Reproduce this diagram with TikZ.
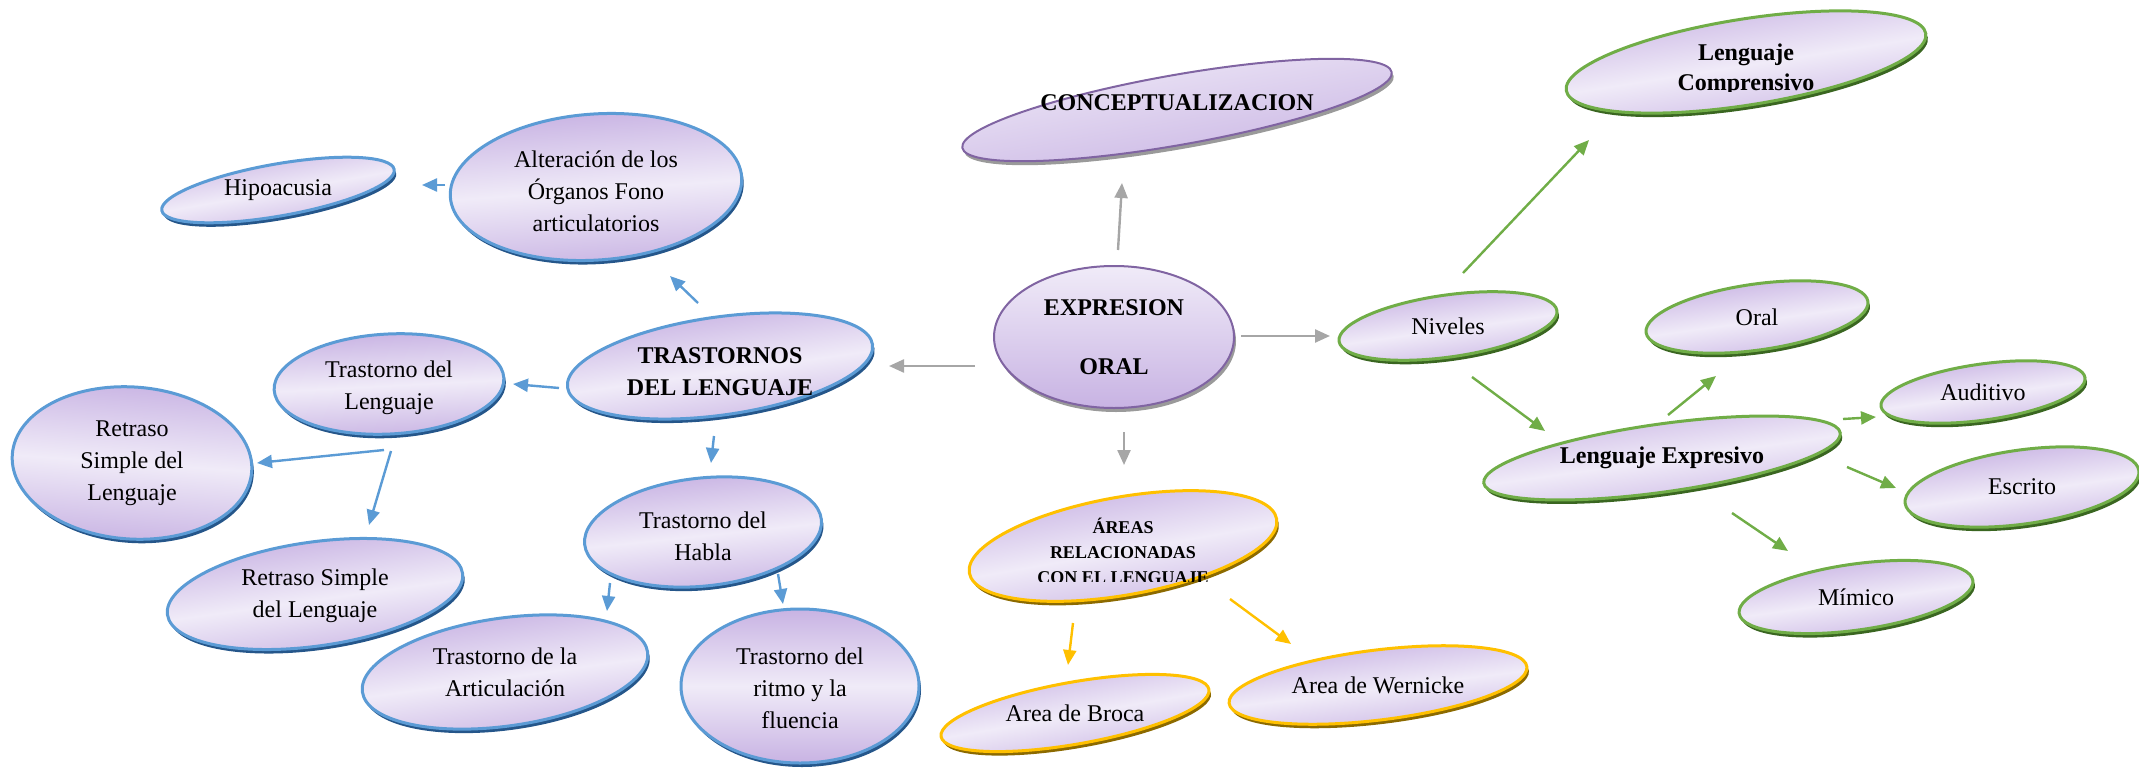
\documentclass[tikz,border=0pt]{standalone}
\usepackage{fontspec}
\setmainfont{Liberation Serif}
\usetikzlibrary{calc,backgrounds,arrows.meta}
\definecolor{lilacdeep}{HTML}{C8B3E3}
\definecolor{lilacpale}{HTML}{F0EBF8}
\definecolor{rimblue}{HTML}{5B9BD5}
\definecolor{darkblue}{HTML}{25568A}
\definecolor{rimgreen}{HTML}{70AD47}
\definecolor{darkgreen}{HTML}{3A6621}
\definecolor{rimgold}{HTML}{FFC000}
\definecolor{darkgold}{HTML}{8C6A00}
\definecolor{rimpurple}{HTML}{8064A2}
\definecolor{shadowgrey}{HTML}{9A9A9A}
\definecolor{linkgrey}{HTML}{A6A6A6}
\newcommand{\linkwidth}{2.4pt}
% centre, x radius, y radius, tilt, rim, shadow, filling
\newcommand{\bubble}[7]{%
\fill[#6] ($(#1)+(2,4)$) ellipse [x radius=#2, y radius=#3, rotate=#4];
\shade[#7, shading angle=#4] (#1) ellipse [x radius=#2, y radius=#3, rotate=#4];
\draw[#5] (#1) ellipse [x radius=#2, y radius=#3, rotate=#4];
}

\begin{document}
\begin{tikzpicture}[x=1pt, y=-1pt,
  word/.style={font=\fontsize{24}{32}\selectfont, align=center, inner sep=0},
  strong/.style={word, font=\fontsize{24}{32}\selectfont\bfseries},
  heading/.style={word, font=\fontsize{18}{25}\selectfont\bfseries},
  blueedge/.style={draw=rimblue, line width=3},
  greenedge/.style={draw=rimgreen, line width=3},
  goldedge/.style={draw=rimgold, line width=3},
  purpleedge/.style={draw=rimpurple, line width=2},
  band/.style={top color=lilacdeep, bottom color=lilacdeep, middle color=lilacpale},
  fade/.style={top color=lilacpale, bottom color=lilacdeep},
  link/.style={line width=\linkwidth, -{Triangle[length=15pt,width=13pt]}}]
\useasboundingbox (0,0) rectangle (2139,768);
%centre
\node[strong] (ex) at (1114,337) {EXPRESION\\[27pt]ORAL};
\node[strong] (conc) at (1177,103) {CONCEPTUALIZACION};
%trastornos
\node[strong] (tras) at (720,372) {TRASTORNOS\\DEL LENGUAJE};
\node[word] (alt) at (596,191) {Alteración de los\\Órganos Fono\\articulatorios};
\node[word] (hipo) at (278,190) {Hipoacusia};
\node[word] (tl) at (389,388) {Trastorno del\\Lenguaje};
\node[word] (retl) at (132,463) {Retraso\\Simple del\\Lenguaje};
\node[word] (retb) at (315,596) {Retraso Simple\\del Lenguaje};
\node[word] (habla) at (703,536) {Trastorno del\\Habla};
\node[word] (art) at (505,672) {Trastorno de la\\Articulación};
\node[word] (ritmo) at (800,688) {Trastorno del\\ritmo y la\\fluencia};
%areas
\begin{scope}
\clip (950,480) rectangle (1300,581);
\node[heading] (areas) at (1123,551) {ÁREAS\\RELACIONADAS\\CON EL LENGUAJE};
\end{scope}
\node[word] (broca) at (1075,713) {Area de Broca};
\node[word] (wern) at (1378,685) {Area de Wernicke};
%niveles
\node[word] (niv) at (1448,326) {Niveles};
\begin{scope}
\clip (1550,0) rectangle (1950,91);
\node[strong, font=\fontsize{24}{30}\selectfont\bfseries] (comp) at (1746,70) {Lenguaje\\Comprensivo};
\end{scope}
\node[strong] (expr) at (1662,458) {Lenguaje Expresivo};
\node[word] (oral) at (1757,317) {Oral};
\node[word] (aud) at (1983,392) {Auditivo};
\node[word] (escr) at (2022,487) {Escrito};
\node[word] (mim) at (1856,597) {Mímico};

\begin{scope}[on background layer]
\bubble{ex}{120}{71}{0}{purpleedge}{shadowgrey}{fade}
\bubble{[yshift=-7]conc}{218}{35}{10}{purpleedge}{shadowgrey}{fade}
\bubble{[yshift=6]tras}{154}{49}{8}{blueedge}{darkblue}{band}
\bubble{[yshift=4]alt}{146}{73}{4}{blueedge}{darkblue}{band}
\bubble{hipo}{118}{26}{10}{blueedge}{darkblue}{band}
\bubble{[yshift=4]tl}{115}{50}{3}{blueedge}{darkblue}{band}
\bubble{retl}{120}{76}{-4}{blueedge}{darkblue}{band}
\bubble{[yshift=2]retb}{149}{52}{8}{blueedge}{darkblue}{band}
\bubble{[yshift=4]habla}{119}{54}{6}{blueedge}{darkblue}{band}
\bubble{art}{144}{54}{8}{blueedge}{darkblue}{band}
\bubble{[yshift=2]ritmo}{119}{77}{0}{blueedge}{darkblue}{band}
\bubble{[yshift=5]areas}{156}{49}{10}{goldedge}{darkgold}{band}
\bubble{broca}{136}{31}{10}{goldedge}{darkgold}{band}
\bubble{wern}{150}{35}{7}{goldedge}{darkgold}{band}
\bubble{niv}{110}{31}{8}{greenedge}{darkgreen}{band}
\bubble{[yshift=8]comp}{182}{43}{9}{greenedge}{darkgreen}{band}
\bubble{expr}{180}{34}{8}{greenedge}{darkgreen}{band}
\bubble{oral}{112}{33}{8}{greenedge}{darkgreen}{band}
\bubble{aud}{103}{28}{8}{greenedge}{darkgreen}{band}
\bubble{escr}{118}{37}{8}{greenedge}{darkgreen}{band}
\bubble{mim}{118}{33}{8}{greenedge}{darkgreen}{band}
\end{scope}

%links
\draw[link, linkgrey] ($(ex)+(4,-87)$) -- ($(conc)+(-55,80)$);
\draw[link, linkgrey] ($(ex)+(-139,29)$) -- ($(tras)+(169,-6)$);
\draw[link, linkgrey] ($(ex)+(127,-1)$) -- ($(niv)+(-118,10)$);
\draw[link, linkgrey] ($(ex)+(10,95)$) -- ($(areas)+(1,-86)$);
\draw[link, rimblue] ($(tras)+(-22,-69)$) -- ($(alt)+(74,85)$);
\draw[link, rimblue] ($(alt)+(-151,-6)$) -- ($(hipo)+(144,-5)$);
\draw[link, rimblue] ($(tras)+(-161,16)$) -- ($(tl)+(124,-4)$);
\draw[link, rimblue] ($(tras)+(-6,64)$) -- ($(habla)+(8,-73)$);
\draw[link, rimblue] ($(tl)+(-5,62)$) -- ($(retl)+(125,0)$);
\draw[link, rimblue] ($(tl)+(2,63)$) -- ($(retb)+(54,-71)$);
\draw[link, rimblue] ($(habla)+(-93,47)$) -- ($(art)+(102,-61)$);
\draw[link, rimblue] ($(habla)+(75,38)$) -- ($(ritmo)+(-17,-84)$);
\draw[link, rimgold] ($(areas)+(-50,72)$) -- ($(broca)+(-7,-48)$);
\draw[link, rimgold] ($(areas)+(107,48)$) -- ($(wern)+(-87,-41)$);
\draw[link, rimgreen] ($(niv)+(15,-53)$) -- ($(comp)+(-157,70)$);
\draw[link, rimgreen] ($(niv)+(24,51)$) -- ($(expr)+(-117,-27)$);
\draw[link, rimgreen] ($(expr)+(6,-43)$) -- ($(oral)+(-41,59)$);
\draw[link, rimgreen] ($(expr)+(181,-39)$) -- ($(aud)+(-107,25)$);
\draw[link, rimgreen] ($(expr)+(185,9)$) -- ($(escr)+(-126,1)$);
\draw[link, rimgreen] ($(expr)+(70,55)$) -- ($(mim)+(-68,-46)$);
\end{tikzpicture}
\end{document}
